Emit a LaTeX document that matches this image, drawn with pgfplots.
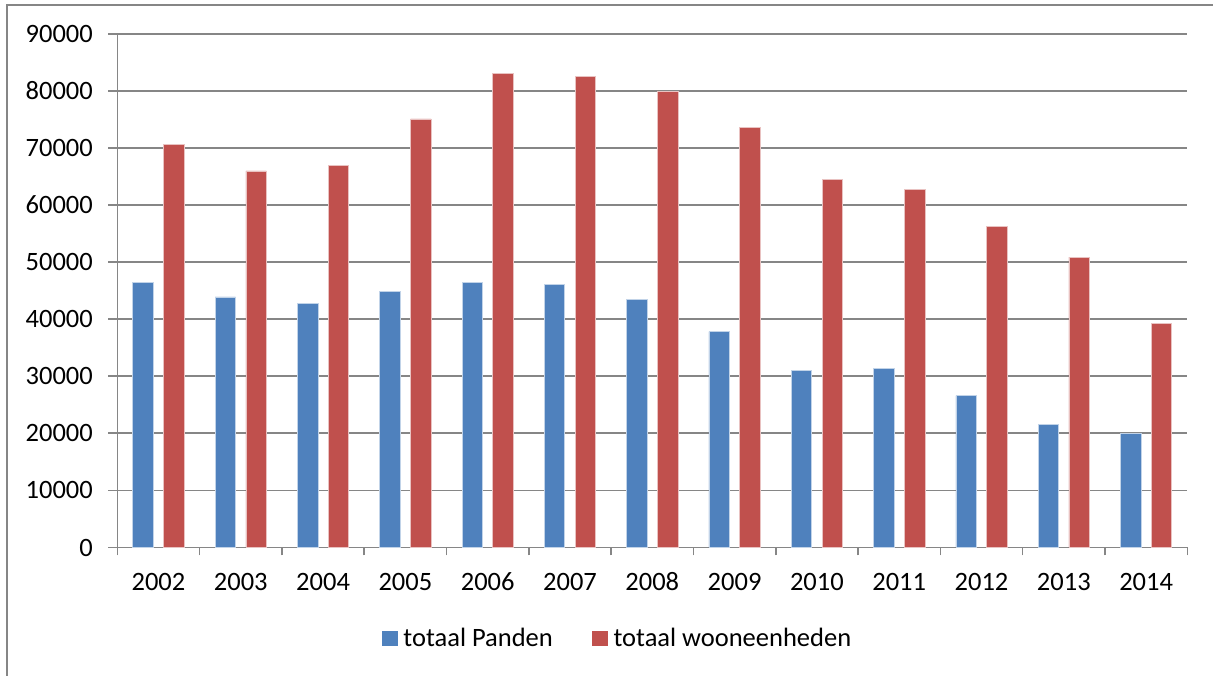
\documentclass[border=0pt]{standalone}
\usepackage{pgfplots}
\pgfplotsset{compat=1.18}
\usepackage{fontspec}
\setmainfont{Carlito}
\definecolor{barblue}{HTML}{4F81BD}
\definecolor{barred}{HTML}{C0504D}
\definecolor{gridgray}{HTML}{868686}
\begin{document}
\begin{tikzpicture}
\useasboundingbox (-117.3pt,-127.7pt) rectangle (1095.7pt,547.3pt);
\draw[gridgray, line width=2pt] (-110.3pt,-135pt) -- (-110.3pt,542.3pt) -- (1100pt,542.3pt);
\begin{axis}[
  at={(0pt,0pt)}, anchor=south west,
  scale only axis, width=1070pt, height=513.3pt,
  xmin=-0.5, xmax=12.5, ymin=0, ymax=90000,
  ybar=10.3pt, bar width=20.5pt,
  axis lines=left,
  axis line style={-, draw=gridgray, line width=1.5pt},
  ymajorgrids, grid style={draw=gridgray, line width=1.5pt},
  xtick={0,1,2,3,4,5,6,7,8,9,10,11,12},
  xticklabels={2002,2003,2004,2005,2006,2007,2008,2009,2010,2011,2012,2013,2014},
  minor xtick={-0.5,0.5,1.5,2.5,3.5,4.5,5.5,6.5,7.5,8.5,9.5,10.5,11.5,12.5},
  ytick={0,10000,20000,30000,40000,50000,60000,70000,80000,90000},
  tick align=outside,
  major tick length=9pt, minor tick length=8pt,
  tick style={draw=gridgray, line width=1.5pt},
  major x tick style={draw=none},
  scaled y ticks=false,
  /pgf/number format/assume math mode=true,
  /pgf/number format/set thousands separator={},
  tick label style={font=\fontsize{26.5}{31}\selectfont, text=black, inner sep=0pt},
  yticklabel style={anchor=base east, xshift=-15.3pt, yshift=-8.7pt},
  xticklabel style={anchor=base, yshift=-33.7pt},
  legend columns=2,
  legend style={draw=none, fill=none, inner sep=0pt, at={(0.4665,-0.1775)}, anchor=center,
    font=\fontsize{26.5}{31}\selectfont,
    nodes={inner sep=0pt},
    /tikz/every odd column/.append style={column sep=6pt},
    /tikz/every even column/.append style={column sep=39pt}},
]
\addplot[fill=barblue, draw=white!65!barblue, line width=0.75pt, legend image code/.code={\fill[barblue] (0pt,-7.4pt) rectangle (15pt,7.4pt);}] coordinates {
(0,46400) (1,43900) (2,42700) (3,44800) (4,46500) (5,46100) (6,43500)
(7,37800) (8,31000) (9,31300) (10,26600) (11,21500) (12,20000)};
\addlegendentry{totaal Panden}
\addplot[fill=barred, draw=white!65!barred, line width=0.75pt, legend image code/.code={\fill[barred] (0pt,-7.4pt) rectangle (15pt,7.4pt);}] coordinates {
(0,70700) (1,66000) (2,66900) (3,75100) (4,83100) (5,82500) (6,80000)
(7,73600) (8,64500) (9,62800) (10,56300) (11,50900) (12,39300)};
\addlegendentry{totaal wooneenheden}
\end{axis}
\end{tikzpicture}
\end{document}
